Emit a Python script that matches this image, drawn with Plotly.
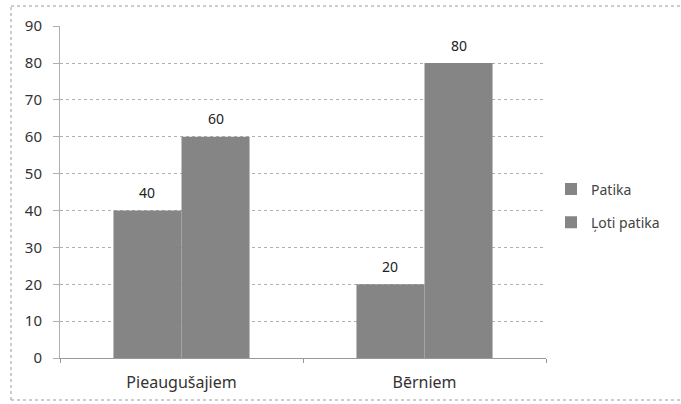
import plotly.graph_objects as go

categories = ["Pieaugušajiem", "Bērniem"]
series_names = ["Patika", "Ļoti patika"]
patika = [40, 20]
loti_patika = [60, 80]
y_ticks = [0, 10, 20, 30, 40, 50, 60, 70, 80, 90]

font_family = "Noto Sans, DejaVu Sans, sans-serif"
bar_color = "#858585"

fig = go.Figure()
for i, (name, vals) in enumerate(zip(series_names, [patika, loti_patika])):
    fig.add_trace(go.Bar(
        x=categories, y=vals, name=name,
        marker=dict(color=bar_color, line=dict(width=0)),
        legendgroup=f"g{i}",
    ))

# value labels placed above each bar (offset by half a bar width within the group)
bar_px = 486 / 2 * 0.56 / 2
annotations = []
for i, vals in enumerate([patika, loti_patika]):
    for cat, v in zip(categories, vals):
        annotations.append(dict(
            x=cat, y=v, xref="x", yref="y", text=str(v), showarrow=False,
            xshift=(i - 0.5) * bar_px, yshift=18, yanchor="middle",
            font=dict(size=14, color="#222", family=font_family)))

fig.update_layout(
    width=681, height=404,
    margin=dict(l=60, r=135, t=26, b=46),
    paper_bgcolor="white", plot_bgcolor="white",
    barmode="group", bargap=0.44, bargroupgap=0,
    font=dict(family=font_family, size=13, color="#333"),
    legend=dict(x=1.0103, y=0.458, yanchor="middle", xanchor="left",
                font=dict(size=14, color="#444"), tracegroupgap=12,
                itemwidth=30, bgcolor="rgba(0,0,0,0)"),
    showlegend=True,
    annotations=annotations,
    shapes=[
        dict(type="line", xref="paper", yref="paper",
             x0=-49/486, x1=1 + 135/486, y0=1 + 20/332, y1=1 + 20/332,
             line=dict(color="#999", width=1, dash="dot")),
        dict(type="line", xref="paper", yref="paper",
             x0=-49/486, x1=1 + 135/486, y0=-42/332, y1=-42/332,
             line=dict(color="#999", width=1, dash="dot")),
        dict(type="line", xref="paper", yref="paper",
             x0=-49/486, x1=-49/486, y0=-42/332, y1=1 + 20/332,
             line=dict(color="#999", width=1, dash="dot")),
    ],
)
fig.update_yaxes(range=[0, 90.05], tickvals=y_ticks, showgrid=True,
                 gridcolor="#b0b0b0", griddash="dot", gridwidth=1,
                 showline=True, linecolor="#b0b0b0", linewidth=1,
                 ticks="outside", ticklen=6, tickcolor="#b0b0b0",
                 ticklabelstandoff=8,
                 tickfont=dict(size=15, color="#333"), zeroline=False)
fig.update_xaxes(showline=True, linecolor="#999", linewidth=1,
                 ticks="outside", tickson="boundaries", ticklen=4, tickcolor="#999",
                 ticklabelstandoff=10,
                 tickfont=dict(size=16, color="#333"))

fig.write_html("out.html", config={"displayModeBar": False},
               post_script="document.body.style.margin='0';document.body.style.overflow='hidden';")
